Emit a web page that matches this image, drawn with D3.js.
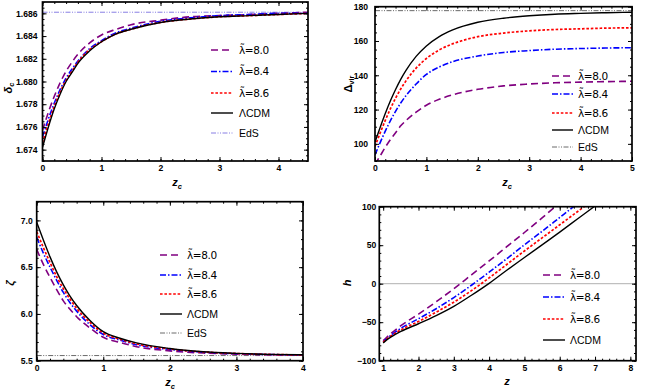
<!DOCTYPE html>
<html>
<head>
<meta charset="utf-8">
<script src="https://cdn.jsdelivr.net/npm/d3@7"></script>
<style>
body{margin:0;background:#fff}
svg{display:block;font-family:"Liberation Sans",Arial,sans-serif}
</style>
</head>
<body>
<svg id="chart" width="645" height="390"></svg>
<script>
// ---- panel 1 : delta_c(z_c)
let zc1 = [0,0.1,0.2,0.3,0.4,0.5,0.6,0.8,1,1.25,1.5,2,2.5,3,3.5,4,4.5];
let dc80 = [1.6757,1.6773,1.6787,1.6799,1.6809,1.6817,1.6824,1.6834,1.6841,1.6846,1.6850,1.6854,1.6857,1.6858,1.6859,1.6860,1.6861];
let dc84 = [1.6751,1.6767,1.6781,1.6793,1.6803,1.6811,1.6818,1.6829,1.6836,1.6843,1.6847,1.6853,1.6856,1.6858,1.6859,1.6860,1.6860];
let dc86 = [1.6746,1.6763,1.6778,1.6791,1.6801,1.6809,1.6817,1.6828,1.6835,1.6842,1.6846,1.6852,1.6855,1.6857,1.6858,1.6859,1.6860];
let dcLCDM = [1.6742,1.6760,1.6776,1.6789,1.6800,1.6808,1.6816,1.6827,1.6835,1.6842,1.6846,1.6852,1.6855,1.6857,1.6858,1.6859,1.6860];
let dcEdS = 1.6861;
let p1YTicks = [1.674,1.676,1.678,1.680,1.682,1.684,1.686];
let p1XTicks = [0,1,2,3,4];

// ---- panel 2 : Delta_vir(z_c)
let zc2 = [0,0.1,0.2,0.3,0.4,0.5,0.6,0.8,1,1.25,1.5,2,2.5,3,3.5,4,4.5,5];
let dv80 = [88.0,93.0,98.0,102.5,106.5,110.5,113.5,118.5,122.5,126.0,128.5,131.8,133.8,134.9,135.6,136.0,136.3,136.5];
let dv84 = [93.6,100.7,107.4,113.5,119.0,123.8,128.0,134.9,140.5,144.8,147.8,151.2,153.3,154.4,155.2,155.6,155.9,156.1];
let dv86 = [98.5,106.3,113.7,120.5,126.6,132.0,136.6,144.2,149.8,154.8,158.2,162.5,164.6,165.9,166.7,167.1,167.5,167.7];
let dvLCDM = [101.1,109.6,117.7,125.1,131.7,137.6,142.7,151.0,157.1,162.6,166.3,170.9,173.3,174.7,175.6,176.1,176.5,176.8];
let dvEdS = 177.7;
let p2YTicks = [100,120,140,160,180];
let p2XTicks = [0,1,2,3,4,5];

// ---- panel 3 : zeta(z_c)
let zc3 = [0,0.1,0.2,0.3,0.4,0.5,0.6,0.8,1,1.25,1.5,2,2.5,3,3.5,4];
let ze80 = [6.69,6.53,6.39,6.26,6.14,6.05,5.97,5.85,5.75,5.695,5.65,5.605,5.582,5.570,5.564,5.561];
let ze84 = [6.82,6.65,6.50,6.36,6.23,6.12,6.03,5.885,5.78,5.72,5.67,5.62,5.59,5.575,5.566,5.562];
let ze86 = [6.88,6.71,6.55,6.40,6.27,6.16,6.06,5.91,5.795,5.73,5.68,5.625,5.593,5.577,5.567,5.562];
let zeLCDM = [6.98,6.79,6.61,6.45,6.31,6.19,6.09,5.93,5.81,5.74,5.69,5.63,5.595,5.578,5.568,5.563];
let zeEdS = 5.555;
let p3YTicks = [5.5,6.0,6.5,7.0];
let p3XTicks = [0,1,2,3,4];

// ---- panel 4 : h(z)
let z4 = [1,1.1,1.25,1.5,2,2.5,3,3.5,4,4.5,5,5.5,6,6.5,7];
let h80 = [-74,-69.5,-63.5,-54.5,-39.5,-23.5,-6.5,11.5,29.5,48,66.5,85.5,105,124,143];
let h84 = [-75.5,-71.5,-66,-58,-45.5,-32.5,-18,-2,15,32.5,50.5,68,86,104,122];
let h86 = [-76,-72,-67,-60,-49,-37,-24,-9,7.5,25,42.5,59.5,76.5,93.5,110.5];
let hLCDM = [-77,-73,-68.5,-62,-52,-41.5,-29.5,-15,0.5,17.5,34,50.5,67,84,101];
let p4YTicks = [-100,-50,0,50,100];
let p4XTicks = [1,2,3,4,5,6,7,8];

let lamLabels = ["\u03BB\u0303=8.0","\u03BB\u0303=8.4","\u03BB\u0303=8.6"];
let otherLabels = ["\u039BCDM","EdS"];

let styles = {
  l80: {stroke:"#800080", dash:"7,4", w:1.6},
  l84: {stroke:"#0000ff", dash:"6,2,1.5,2", w:1.6},
  l86: {stroke:"#ff0000", dash:"2.6,1.8", w:1.7},
  lcdm:{stroke:"#000000", dash:null, w:1.4},
  edsBlue:{stroke:"#7a70e0", dash:"5,1.5,1,1.5,1,1.5", w:0.9},
  edsGray:{stroke:"#444444", dash:"5,1.5,1,1.5,1,1.5", w:0.8}
};

let svg = d3.select("#chart");
svg.append("rect").attr("width",645).attr("height",390).attr("fill","#fff");

function panel(o){
  let x = d3.scaleLinear().domain(o.xDom).range([o.l,o.r]);
  let y = d3.scaleLinear().domain(o.yDom).range([o.b,o.t]);
  let g = svg.append("g");
  let clipId = "clip" + o.id;
  svg.append("clipPath").attr("id",clipId)
    .append("rect").attr("x",o.l).attr("y",o.t).attr("width",o.r-o.l).attr("height",o.b-o.t);
  let plot = g.append("g").attr("clip-path","url(#"+clipId+")");

  if(o.zeroLine){
    plot.append("line").attr("x1",o.l).attr("x2",o.r)
      .attr("y1",y(0)).attr("y2",y(0))
      .attr("stroke","#b0b0b0").attr("stroke-width",1);
  }

  o.series.forEach(s => {
    let st = styles[s.style];
    if(s.flat !== undefined){
      plot.append("line").attr("x1",o.l).attr("x2",o.r)
        .attr("y1",y(s.flat)).attr("y2",y(s.flat))
        .attr("stroke",st.stroke).attr("stroke-width",st.w)
        .attr("stroke-dasharray",st.dash);
      return;
    }
    let line = d3.line()
      .x((d,i) => x(s.x[i]))
      .y(d => y(d))
      .curve(d3.curveMonotoneX);
    plot.append("path").attr("d",line(s.y))
      .attr("fill","none")
      .attr("stroke",st.stroke).attr("stroke-width",st.w)
      .attr("stroke-dasharray",st.dash);
  });

  // frame ticks, major + minor, all inward
  let xMinor = d3.range(Math.ceil(o.xDom[0]/o.xMinor-1e-6)*o.xMinor, o.xDom[1]+1e-9, o.xMinor);
  let yMinor = d3.range(Math.ceil(o.yDom[0]/o.yMinor-1e-6)*o.yMinor, o.yDom[1]+1e-9, o.yMinor);

  let axes = [
    [d3.axisBottom(x).tickValues(o.xTicks).tickSize(-4).tickPadding(4).tickFormat(o.xFmt), "translate(0,"+o.b+")"],
    [d3.axisBottom(x).tickValues(xMinor).tickSize(-2).tickFormat(""), "translate(0,"+o.b+")"],
    [d3.axisTop(x).tickValues(o.xTicks).tickSize(-4).tickFormat(""), "translate(0,"+o.t+")"],
    [d3.axisTop(x).tickValues(xMinor).tickSize(-2).tickFormat(""), "translate(0,"+o.t+")"],
    [d3.axisLeft(y).tickValues(o.yTicks).tickSize(-4).tickPadding(o.yPad).tickFormat(o.yFmt), "translate("+o.l+",0)"],
    [d3.axisLeft(y).tickValues(yMinor).tickSize(-2).tickFormat(""), "translate("+o.l+",0)"],
    [d3.axisRight(y).tickValues(o.yTicks).tickSize(-4).tickFormat(""), "translate("+o.r+",0)"],
    [d3.axisRight(y).tickValues(yMinor).tickSize(-2).tickFormat(""), "translate("+o.r+",0)"]
  ];
  axes.forEach(a => {
    let ax = g.append("g").attr("transform",a[1]).call(a[0]);
    ax.select(".domain").remove();
    ax.selectAll("line").attr("stroke","#000").attr("stroke-width",1);
    ax.selectAll("text").attr("font-size",8.6).attr("font-weight","bold")
      .attr("fill","#000").attr("font-family","'Liberation Sans',Arial,sans-serif");
  });

  g.append("rect").attr("x",o.l).attr("y",o.t).attr("width",o.r-o.l).attr("height",o.b-o.t)
    .attr("fill","none").attr("stroke","#000").attr("stroke-width",1.7);

  // axis titles
  let xt = g.append("text").attr("x",o.xTitle[0]).attr("y",o.xTitle[1])
    .attr("text-anchor","middle").attr("font-size",11).attr("font-weight","bold");
  xt.append("tspan").attr("font-style","italic").text(o.xName);
  if(o.xSub) xt.append("tspan").attr("font-size",7.5).attr("dy",2.5).attr("font-style","italic").text(o.xSub);

  let yt = g.append("text")
    .attr("transform","translate("+o.yTitle[0]+","+o.yTitle[1]+") rotate(-90)")
    .attr("text-anchor","middle").attr("font-size",11).attr("font-weight","bold");
  yt.append("tspan").attr("font-style",o.yItalic ? "italic" : "normal").text(o.yName);
  if(o.ySub) yt.append("tspan").attr("font-size",7.5).attr("dy",2.2).attr("font-style",o.ySubItalic ? "italic":"normal").text(o.ySub);

  // legend
  let lg = g.append("g");
  o.legend.forEach((d,i) => {
    let st = styles[d.style];
    let yy = o.legY[i];
    lg.append("line").attr("x1",o.legX[0]).attr("x2",o.legX[1])
      .attr("y1",yy).attr("y2",yy)
      .attr("stroke",st.stroke).attr("stroke-width",st.w)
      .attr("stroke-dasharray",st.dash);
    lg.append("text").attr("x",o.legX[2]).attr("y",yy).attr("dy","0.36em")
      .attr("font-size",10.5).attr("fill","#000")
      .attr("font-family",d.lam ? "'DejaVu Sans',sans-serif" : null)
      .attr("letter-spacing",d.lam ? -0.4 : null)
      .text(d.label);
  });
}

let fmtInt = d3.format("d");

function legendSet(edsStyle){
  let out = [
    {style:"l80",label:lamLabels[0],lam:true},
    {style:"l84",label:lamLabels[1],lam:true},
    {style:"l86",label:lamLabels[2],lam:true},
    {style:"lcdm",label:otherLabels[0]}
  ];
  if(edsStyle) out.push({style:edsStyle,label:otherLabels[1]});
  return out;
}

panel({
  id:1, l:42.5, r:308, t:2, b:161,
  xDom:[0,4.5], yDom:[1.673,1.687],
  xTicks:p1XTicks, yTicks:p1YTicks, xMinor:0.2, yMinor:0.0005,
  xFmt:fmtInt, yFmt:d3.format(".3f"), yPad:5,
  xName:"z", xSub:"c", xTitle:[177,186],
  yName:"\u03B4", ySub:"c", yItalic:true, ySubItalic:true, yTitle:[12,88],
  series:[
    {style:"edsBlue", flat:dcEdS},
    {style:"l80", x:zc1, y:dc80},
    {style:"l84", x:zc1, y:dc84},
    {style:"l86", x:zc1, y:dc86},
    {style:"lcdm", x:zc1, y:dcLCDM}
  ],
  legend:legendSet("edsBlue"),
  legX:[211,233,239], legY:[50,71.5,93,113,133]
});

panel({
  id:2, l:375, r:632, t:6.7, b:161,
  xDom:[0,5], yDom:[90,180],
  xTicks:p2XTicks, yTicks:p2YTicks, xMinor:0.2, yMinor:5,
  xFmt:fmtInt, yFmt:fmtInt, yPad:7,
  xName:"z", xSub:"c", xTitle:[507,186],
  yName:"\u0394", ySub:"vir", yItalic:false, ySubItalic:false, yTitle:[352,84],
  series:[
    {style:"edsGray", flat:dvEdS},
    {style:"l80", x:zc2, y:dv80},
    {style:"l84", x:zc2, y:dv84},
    {style:"l86", x:zc2, y:dv86},
    {style:"lcdm", x:zc2, y:dvLCDM}
  ],
  legend:legendSet("edsGray"),
  legX:[552,573,578], legY:[76,94,113,130,147]
});

panel({
  id:3, l:36.7, r:303, t:201.7, b:360.7,
  xDom:[0,4], yDom:[5.5,7.2],
  xTicks:p3XTicks, yTicks:p3YTicks, xMinor:0.2, yMinor:0.1,
  xFmt:fmtInt, yFmt:d3.format(".1f"), yPad:4,
  xName:"z", xSub:"c", xTitle:[170,386],
  yName:"\u03B6", yItalic:true, yTitle:[14,283],
  series:[
    {style:"edsGray", flat:zeEdS},
    {style:"l80", x:zc3, y:ze80},
    {style:"l84", x:zc3, y:ze84},
    {style:"l86", x:zc3, y:ze86},
    {style:"lcdm", x:zc3, y:zeLCDM}
  ],
  legend:legendSet("edsGray"),
  legX:[160,182,187], legY:[255,275,294,314,333]
});

panel({
  id:4, l:379.3, r:636, t:206.7, b:360.7,
  xDom:[0.89,8.16], yDom:[-100,100],
  xTicks:p4XTicks, yTicks:p4YTicks, xMinor:0.2, yMinor:10,
  xFmt:fmtInt, yFmt:fmtInt, yPad:3,
  xName:"z", xTitle:[507,385],
  yName:"h", yItalic:true, yTitle:[351,283],
  zeroLine:true,
  series:[
    {style:"l80", x:z4, y:h80},
    {style:"l84", x:z4, y:h84},
    {style:"l86", x:z4, y:h86},
    {style:"lcdm", x:z4, y:hLCDM}
  ],
  legend:legendSet(null),
  legX:[543,565,570], legY:[275,297,319,340]
});
</script>
</body>
</html>
